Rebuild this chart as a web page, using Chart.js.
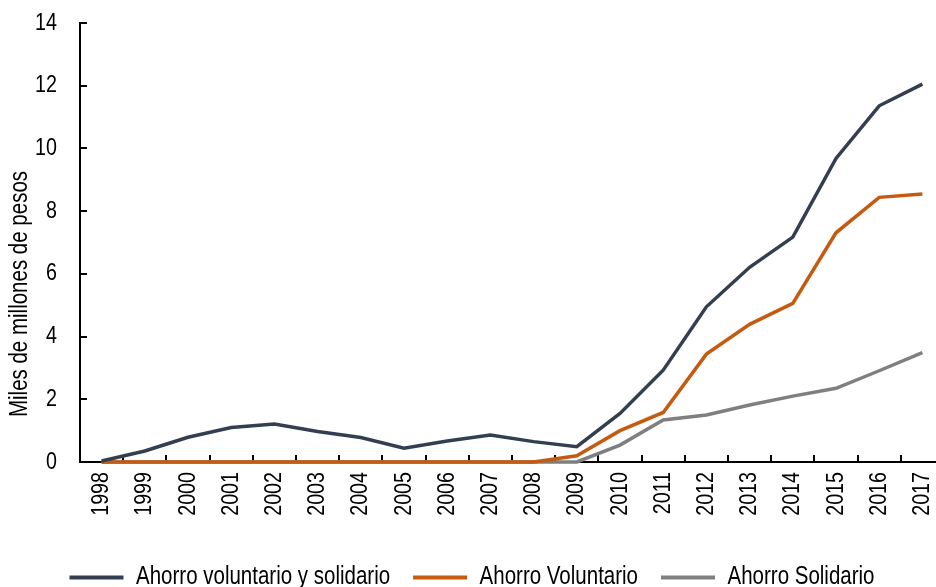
<!DOCTYPE html>
<html><head><meta charset="utf-8">
<script src="https://cdn.jsdelivr.net/npm/chart.js@4"></script>
<style>html,body{margin:0;padding:0;overflow:hidden;background:#fff;width:936px;height:587px}</style>
</head><body>
<canvas id="c" width="960" height="600" style="display:block"></canvas>
<script>
const years = ['1998','1999','2000','2001','2002','2003','2004','2005','2006','2007','2008','2009','2010','2011','2012','2013','2014','2015','2016','2017'];
const ahorroVoluntarioYSolidario = [0.03,0.35,0.79,1.10,1.21,0.97,0.78,0.44,0.67,0.86,0.65,0.49,1.55,2.93,4.95,6.21,7.17,9.68,11.36,12.05];
const ahorroVoluntario = [0,0,0,0,0,0,0,0,0,0,0,0.20,1.00,1.58,3.44,4.39,5.06,7.31,8.44,8.55];
const ahorroSolidario = [0,0,0,0,0,0,0,0,0,0,0,0,0.54,1.34,1.50,1.82,2.10,2.35,2.91,3.49];
const seriesNames = ['Ahorro voluntario y solidario','Ahorro Voluntario','Ahorro Solidario'];
const seriesColors = ['#333f50','#c55a11','#7f7f7f'];
const yTitle = 'Miles de millones de pesos';
const yMin = 0, yMax = 14, yStep = 2;

// Narrow (Arial Narrow-like) rendering: condense Liberation Sans horizontally
const NARROW = 0.82;
(function () {
  const P = CanvasRenderingContext2D.prototype;
  const origFill = P.fillText, origMeasure = P.measureText;
  P.fillText = function (t, x, y) {
    this.save();
    this.translate(x, y);
    this.scale(NARROW, 1);
    origFill.call(this, t, 0, 0);
    this.restore();
  };
  P.measureText = function (t) {
    const m = origMeasure.call(this, t);
    return {
      width: m.width * NARROW,
      actualBoundingBoxAscent: m.actualBoundingBoxAscent,
      actualBoundingBoxDescent: m.actualBoundingBoxDescent,
      actualBoundingBoxLeft: m.actualBoundingBoxLeft * NARROW,
      actualBoundingBoxRight: m.actualBoundingBoxRight * NARROW
    };
  };
})();

const FONT = '"Liberation Sans", Arial, sans-serif';
Chart.defaults.font.family = FONT;
Chart.defaults.font.size = 24;
Chart.defaults.color = '#000';

const yTitlePlugin = {
  id: 'yTitlePlugin',
  afterDraw(chart) {
    const ctx = chart.ctx, a = chart.chartArea;
    ctx.save();
    ctx.translate(20, a.bottom - 168);
    ctx.rotate(-Math.PI / 2);
    ctx.textAlign = 'center';
    ctx.textBaseline = 'middle';
    ctx.font = '25px ' + FONT;
    ctx.fillStyle = '#000';
    ctx.fillText(yTitle, 0, 0);
    ctx.restore();
  }
};

const seriesData = [ahorroVoluntarioYSolidario, ahorroVoluntario, ahorroSolidario];
const datasets = seriesData.map((d, i) => ({
  label: seriesNames[i],
  data: d,
  borderColor: seriesColors[i],
  backgroundColor: seriesColors[i],
  borderWidth: 3.5,
  pointRadius: 0,
  pointHoverRadius: 0,
  tension: 0,
  fill: false,
  clip: false
}));

new Chart(document.getElementById('c'), {
  type: 'line',
  data: { labels: years, datasets },
  options: {
    responsive: false,
    devicePixelRatio: 1,
    animation: false,
    layout: { padding: { left: 0, top: 23, right: 16, bottom: 0 } },
    plugins: {
      tooltip: { enabled: false },
      legend: {
        position: 'bottom',
        labels: {
          boxWidth: 54,
          boxHeight: 4,
          padding: 23,
          font: { size: 25 },
          color: '#000',
          generateLabels(chart) {
            return Chart.defaults.plugins.legend.labels.generateLabels(chart).map(it => ({ ...it, lineWidth: 0 }));
          }
        }
      }
    },
    scales: {
      x: {
        type: 'category',
        offset: true,
        grid: { offset: true, drawOnChartArea: false, drawTicks: true, tickLength: -7, color: '#000', lineWidth: 2 },
        border: { display: true, color: '#000', width: 2 },
        ticks: { minRotation: 90, maxRotation: 90, autoSkip: false, padding: 17, color: '#000', font: { size: 24 } },
        afterFit(s) { s.height = 80; s.paddingLeft = 0; s.paddingRight = 0; }
      },
      y: {
        min: yMin, max: yMax,
        ticks: { stepSize: yStep, padding: 30, color: '#000', font: { size: 24 } },
        grid: { drawOnChartArea: false, drawTicks: true, tickLength: -7, color: '#000', lineWidth: 2 },
        border: { display: true, color: '#000', width: 2 },
        afterFit(s) { s.width = 80; s.paddingTop = 0; s.paddingBottom = 0; }
      }
    }
  },
  plugins: [yTitlePlugin]
});
</script>
</body></html>
